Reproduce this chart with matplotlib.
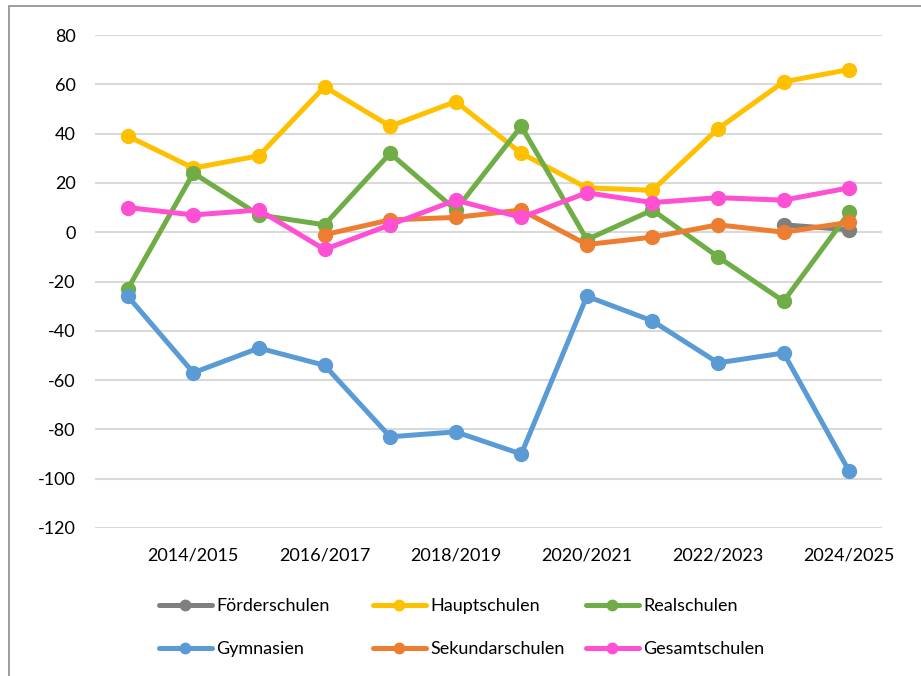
import matplotlib.pyplot as plt
import numpy as np

years = ['2013/2014', '2014/2015', '2015/2016', '2016/2017', '2017/2018', '2018/2019',
         '2019/2020', '2020/2021', '2021/2022', '2022/2023', '2023/2024', '2024/2025']
nan = np.nan
foerder = [nan, nan, nan, nan, nan, nan, nan, nan, nan, nan, 3, 1]
haupt = [39, 26, 31, 59, 43, 53, 32, 18, 17, 42, 61, 66]
real = [-23, 24, 7, 3, 32, 9, 43, -3, 9, -10, -28, 8]
gymn = [-26, -57, -47, -54, -83, -81, -90, -26, -36, -53, -49, -97]
sekundar = [nan, nan, nan, -1, 5, 6, 9, -5, -2, 3, 0, 4]
gesamt = [10, 7, 9, -7, 3, 13, 6, 16, 12, 14, 13, 18]

series = [
    ('Förderschulen', foerder, '#7f7f7f'),
    ('Hauptschulen', haupt, '#ffc000'),
    ('Realschulen', real, '#70ad47'),
    ('Gymnasien', gymn, '#5b9bd5'),
    ('Sekundarschulen', sekundar, '#ed7d31'),
    ('Gesamtschulen', gesamt, '#ff4fd3'),
]

plt.rcParams['font.family'] = ['Lato', 'DejaVu Sans']
plt.rcParams['axes.unicode_minus'] = False

fig = plt.figure(figsize=(9.21, 6.76), dpi=100)
ax = fig.add_axes([95 / 921, 1 - 528 / 676, 787 / 921, 493 / 676])

x = np.arange(len(years))
for name, vals, col in series:
    ax.plot(x, vals, color=col, lw=3.6, marker='o', ms=10, label=name,
            solid_capstyle='round', solid_joinstyle='round')

ax.set_xlim(-0.5, len(years) - 0.5)
ax.set_ylim(-120, 80)
ax.set_yticks(range(-120, 81, 20))
ax.set_xticks(x[1::2])
ax.set_xticklabels(years[1::2])
ax.grid(axis='y', color='#d9d9d9', lw=1.5)
ax.set_axisbelow(True)
for s in ax.spines.values():
    s.set_visible(False)
ax.tick_params(length=0, labelsize=13)
ax.tick_params(axis='y', pad=14)
ax.tick_params(axis='x', pad=14)

# legend: three equal-width columns, two rows each
h, l = ax.get_legend_handles_labels()
col_x = [163, 377, 590]
for c in range(3):
    idx = [c, c + 3]
    fig.legend([h[i] for i in idx], [l[i] for i in idx], ncol=1,
               loc='upper left', bbox_to_anchor=(col_x[c] / 921 - 0.012, 1 - 591 / 676),
               frameon=False, fontsize=13, handlelength=2.9, markerscale=0.75,
               handletextpad=0.25, labelspacing=1.5, borderaxespad=0)

# outer border of the chart frame
fig.patches.append(plt.Rectangle((9 / 921, -0.01), 1.0, 1 - 6 / 676 + 0.01,
                                 transform=fig.transFigure, fill=False,
                                 edgecolor='#8c8c8c', lw=1.2))

fig.savefig('out.png', dpi=100)
